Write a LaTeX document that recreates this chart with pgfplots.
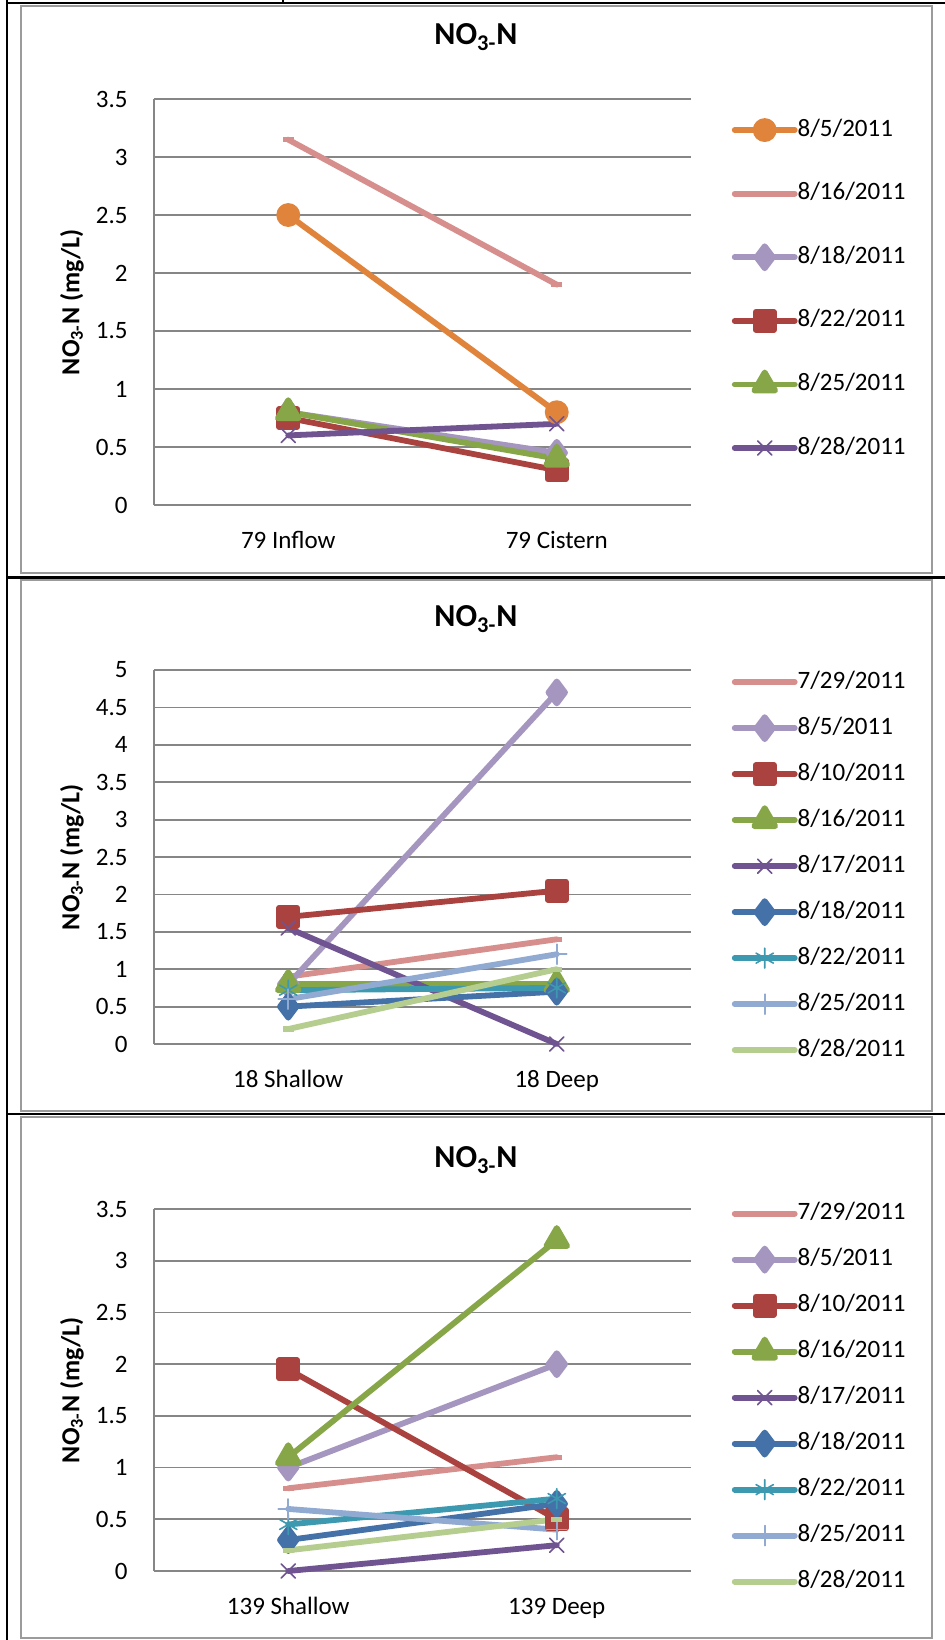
\documentclass[border=0pt]{standalone}
\usepackage{pgfplots}
\pgfplotsset{compat=1.18}
\usepackage{fontspec}
\setmainfont{Carlito}

\definecolor{axgray}{RGB}{134,134,134}
\definecolor{framegray}{RGB}{155,155,155}
\definecolor{cOrange}{RGB}{224,131,59}
\definecolor{cPink}{RGB}{214,143,140}
\definecolor{cLav}{RGB}{165,150,192}
\definecolor{cRed}{RGB}{170,67,63}
\definecolor{cGreen}{RGB}{134,166,72}
\definecolor{cPurple}{RGB}{111,84,145}
\definecolor{cBlue}{RGB}{67,113,168}
\definecolor{cTeal}{RGB}{61,153,176}
\definecolor{cLBlue}{RGB}{145,170,210}
\definecolor{cLGreen}{RGB}{181,205,142}

\pgfplotsset{
  nochart/.style={
    scale only axis,
    width=268.5pt,
    xmin=-0.5, xmax=1.5,
    xtick={0,1},
    ymin=0,
    clip=false,
    axis x line*=bottom, axis y line*=left,
    axis line style={draw=axgray, line width=0.9pt, -},
    ymajorgrids, grid style={draw=axgray, line width=0.9pt},
    major tick length=0pt,
    tick style={draw=none},
    /pgf/number format/assume math mode=true,
    yticklabel style={font=\fontsize{12.5}{14}\selectfont, anchor=east, inner sep=0pt, xshift=-13pt},
    xticklabel style={font=\fontsize{12.5}{14}\selectfont, anchor=base, inner sep=0pt, yshift=-21.5pt},
    ylabel={NO\textsubscript{3-}N (mg/L)},
    every axis y label/.style={at={(axis description cs:-0.153,0.5)}, rotate=90, anchor=center, font=\fontsize{13}{15}\selectfont\bfseries},
    every axis plot/.append style={line width=2.9pt, line cap=round, line join=round},
    legend cell align=left,
    legend style={draw=none, fill=none, anchor=north west,
      font=\fontsize{12.5}{14}\selectfont, inner sep=0pt, outer sep=0pt,
      nodes={inner sep=0pt, text height=10pt, text depth=4pt}},
    legend image code/.code={\draw[mark repeat=2,mark phase=2] plot coordinates {(0pt,0pt) (15pt,0pt) (30pt,0pt)};},
  },
  sDash/.style={mark=-, mark size=2.75pt, mark options={solid, line width=2.6pt, line cap=butt}},
  sCirc/.style={mark=*, mark size=4.5pt, mark options={solid, line width=0.4pt}},
  sDiam/.style={mark=diamond*, mark size=5.5pt, mark options={solid, line width=0.4pt}},
  sSq/.style={mark=square*, mark size=4.5pt, mark options={solid, line width=0.4pt}},
  sTri/.style={mark=triangle*, mark size=6pt, mark options={solid, line width=0.4pt}},
  sX/.style={mark=x, mark size=5pt, mark options={solid, line width=0.8pt}},
  sAst/.style={mark=asterisk, mark size=5pt, mark options={solid, line width=0.8pt}},
  sPlus/.style={mark=+, mark size=5pt, mark options={solid, line width=0.8pt}},
}

\begin{document}
\begin{tikzpicture}[x=0.5pt, y=-0.5pt]
\useasboundingbox (0,0) rectangle (945,1640);
\coordinate (A1) at (154,505);
\coordinate (A2) at (154,1044);
\coordinate (A3) at (154,1571);
% table lines
\draw[black, line width=1.1pt] (7,0) -- (7,1640);
\draw[black, line width=1.1pt] (7,3) -- (945,3);
\draw[black, line width=1.1pt] (283,0) -- (283,3);
\draw[black, line width=1.1pt] (7,577.5) -- (945,577.5);
\draw[black, line width=1.1pt] (7,1114) -- (945,1114);
% chart frames
\draw[framegray, line width=1pt, fill=white] (21,6) rectangle (932,573);
\draw[framegray, line width=1pt, fill=white] (21,580) rectangle (932,1111);
\draw[framegray, line width=1pt, fill=white] (21,1117) rectangle (932,1638);
% titles
\node[font=\fontsize{16}{18}\selectfont\bfseries] at (476,37) {NO\textsubscript{3-}N};
\node[font=\fontsize{16}{18}\selectfont\bfseries] at (476,619) {NO\textsubscript{3-}N};
\node[font=\fontsize{16}{18}\selectfont\bfseries] at (476,1160) {NO\textsubscript{3-}N};

% ---------- Chart 1 ----------
\begin{axis}[nochart, at={(A1)}, anchor=south west,
  height=203pt, ymax=3.5, ytick={0,0.5,1,1.5,2,2.5,3,3.5},
  xticklabels={79 Inflow, 79 Cistern},
  legend style={at={(axis description cs:1.076,0.958)}, row sep=17.8pt}]
\addplot[color=cOrange, sCirc, mark options={fill=cOrange}] coordinates {(0,2.5) (1,0.8)};
\addlegendentry{8/5/2011}
\addplot[color=cPink, sDash] coordinates {(0,3.15) (1,1.9)};
\addlegendentry{8/16/2011}
\addplot[color=cLav, sDiam, mark options={fill=cLav}] coordinates {(0,0.8) (1,0.45)};
\addlegendentry{8/18/2011}
\addplot[color=cRed, sSq, mark options={fill=cRed}] coordinates {(0,0.75) (1,0.3)};
\addlegendentry{8/22/2011}
\addplot[color=cGreen, sTri, mark options={fill=cGreen}] coordinates {(0,0.8) (1,0.4)};
\addlegendentry{8/25/2011}
\addplot[color=cPurple, sX] coordinates {(0,0.6) (1,0.7)};
\addlegendentry{8/28/2011}
\end{axis}

% ---------- Chart 2 ----------
\begin{axis}[nochart, at={(A2)}, anchor=south west,
  height=187pt, ymax=5, ytick={0,0.5,1,1.5,2,2.5,3,3.5,4,4.5,5},
  xticklabels={18 Shallow, 18 Deep},
  legend style={at={(axis description cs:1.076,1.005)}, row sep=9.0pt}]
\addplot[color=cPink, sDash] coordinates {(0,0.9) (1,1.4)};
\addlegendentry{7/29/2011}
\addplot[color=cLav, sDiam, mark options={fill=cLav}] coordinates {(0,0.8) (1,4.7)};
\addlegendentry{8/5/2011}
\addplot[color=cRed, sSq, mark options={fill=cRed}] coordinates {(0,1.7) (1,2.05)};
\addlegendentry{8/10/2011}
\addplot[color=cGreen, sTri, mark options={fill=cGreen}] coordinates {(0,0.8) (1,0.8)};
\addlegendentry{8/16/2011}
\addplot[color=cPurple, sX] coordinates {(0,1.55) (1,0)};
\addlegendentry{8/17/2011}
\addplot[color=cBlue, sDiam, mark options={fill=cBlue}] coordinates {(0,0.5) (1,0.7)};
\addlegendentry{8/18/2011}
\addplot[color=cTeal, sAst] coordinates {(0,0.72) (1,0.75)};
\addlegendentry{8/22/2011}
\addplot[color=cLBlue, sPlus] coordinates {(0,0.6) (1,1.2)};
\addlegendentry{8/25/2011}
\addplot[color=cLGreen, sDash] coordinates {(0,0.2) (1,1.0)};
\addlegendentry{8/28/2011}
\end{axis}

% ---------- Chart 3 ----------
\begin{axis}[nochart, at={(A3)}, anchor=south west,
  height=181pt, ymax=3.5, ytick={0,0.5,1,1.5,2,2.5,3,3.5},
  xticklabels={139 Shallow, 139 Deep},
  legend style={at={(axis description cs:1.076,1.026)}, row sep=9.0pt}]
\addplot[color=cPink, sDash] coordinates {(0,0.8) (1,1.1)};
\addlegendentry{7/29/2011}
\addplot[color=cLav, sDiam, mark options={fill=cLav}] coordinates {(0,1.0) (1,2.0)};
\addlegendentry{8/5/2011}
\addplot[color=cRed, sSq, mark options={fill=cRed}] coordinates {(0,1.95) (1,0.5)};
\addlegendentry{8/10/2011}
\addplot[color=cGreen, sTri, mark options={fill=cGreen}] coordinates {(0,1.1) (1,3.2)};
\addlegendentry{8/16/2011}
\addplot[color=cPurple, sX] coordinates {(0,0) (1,0.25)};
\addlegendentry{8/17/2011}
\addplot[color=cBlue, sDiam, mark options={fill=cBlue}] coordinates {(0,0.3) (1,0.65)};
\addlegendentry{8/18/2011}
\addplot[color=cTeal, sAst] coordinates {(0,0.45) (1,0.7)};
\addlegendentry{8/22/2011}
\addplot[color=cLBlue, sPlus] coordinates {(0,0.6) (1,0.4)};
\addlegendentry{8/25/2011}
\addplot[color=cLGreen, sDash] coordinates {(0,0.2) (1,0.5)};
\addlegendentry{8/28/2011}
\end{axis}
\end{tikzpicture}
\end{document}
